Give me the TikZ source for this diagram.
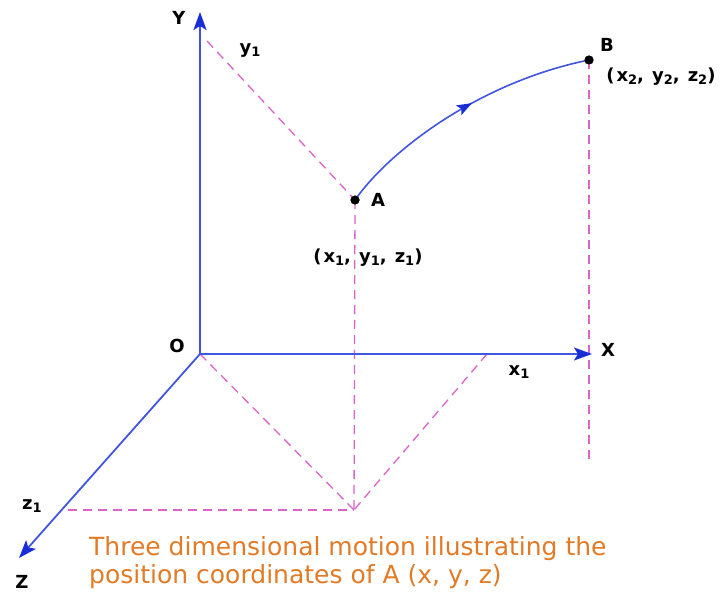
\documentclass[tikz,border=0pt]{standalone}
\usepackage{fontspec}
\setmainfont{DejaVu Sans}
\usetikzlibrary{arrows.meta,decorations.markings}

\definecolor{axisblue}{RGB}{65,85,225}
\definecolor{tipblue}{RGB}{25,45,215}
\definecolor{guidepink}{RGB}{218,100,200}
\definecolor{captionorange}{RGB}{226,122,38}

\newcommand{\lowidx}[1]{\raisebox{-0.3ex}{\fontsize{13}{13}\selectfont #1}}

\begin{document}
\begin{tikzpicture}[x=1pt,y=-1pt,
  axis/.style={axisblue, line width=1.8pt, -{Stealth[length=18pt,width=13pt,inset=4pt,color=tipblue]}},
  guide/.style={guidepink, line width=1.3pt, dash pattern=on 9pt off 6pt},
  lbl/.style={font=\bfseries\fontsize{18}{20}\selectfont, inner sep=1pt},
  coordlbl/.style={lbl, font=\bfseries\fontsize{18}{20}\selectfont\addfontfeature{LetterSpace=10}},
  dot/.style={circle, fill=black, inner sep=0pt, minimum size=9pt},
  motion/.style={axisblue, line width=1.6pt, postaction={decorate},
    decoration={markings, mark=at position 0.55 with {\arrow{Stealth[length=15pt,width=11pt,inset=3pt,color=tipblue]}}}}]
  \useasboundingbox (0,0) rectangle (720,597);

  % Points
  \coordinate (O) at (200,354);
  \coordinate (Xend) at (592,354);
  \coordinate (Yend) at (200,12);
  \coordinate (Zend) at (19,558);
  \coordinate (Y1) at (207,41);
  \coordinate (X1) at (487,354);
  \coordinate (Z1) at (68,510);
  \coordinate (Foot) at (354,510);
  \coordinate (Aend) at (354,510);
  \coordinate (Bend) at (589,460);
  \node[dot] (A) at (355,200) {};
  \node[dot] (B) at (589,60) {};

  % Dashed guides
  \draw[guide] (Y1) -- (A.center);
  \draw[guide] (A.center) -- (Aend);
  \draw[guide] (O) -- (Foot);
  \draw[guide] (X1) -- (Foot);
  \draw[guide] (Z1) -- (Foot);
  \draw[guide] (B.center) -- (Bend);

  % Draw axes
  \draw[axis] (O) -- (Xend);
  \draw[axis] (O) -- (Yend);
  \draw[axis] (O) -- (Zend);

  % Path from A to B
  \draw[motion] (A.center) .. controls (390,150) and (480,82) .. (B.center);
  \node[dot] at (A) {};
  \node[dot] at (B) {};

  % Labels
  \node[lbl] (Ylbl) at (179,18) {Y};
  \node[lbl] (Olbl) at (177,346) {O};
  \node[lbl] (Xlbl) at (608,350) {X};
  \node[lbl] (Zlbl) at (22,582) {Z};
  \node[lbl] (x1lbl) at (519,372) {x\lowidx{1}};
  \node[lbl] (y1lbl) at (250,51) {y\lowidx{1}};
  \node[lbl] (z1lbl) at (32,506) {z\lowidx{1}};
  \node[lbl] (Albl) at (378,200) {A};
  \node[lbl] (Blbl) at (607,45) {B};
  \node[coordlbl] (Acoord) at (368,258) {(x\lowidx{1}, y\lowidx{1}, z\lowidx{1})};
  \node[coordlbl] (Bcoord) at (661,77) {(x\lowidx{2}, y\lowidx{2}, z\lowidx{2})};

  % Caption
  \node[captionorange, anchor=north west, align=left, inner sep=0pt,
    font=\fontsize{25}{28}\selectfont] (caption) at (89,536)
    {Three dimensional motion illustrating the\\position coordinates of A (x, y, z)};
\end{tikzpicture}
\end{document}
